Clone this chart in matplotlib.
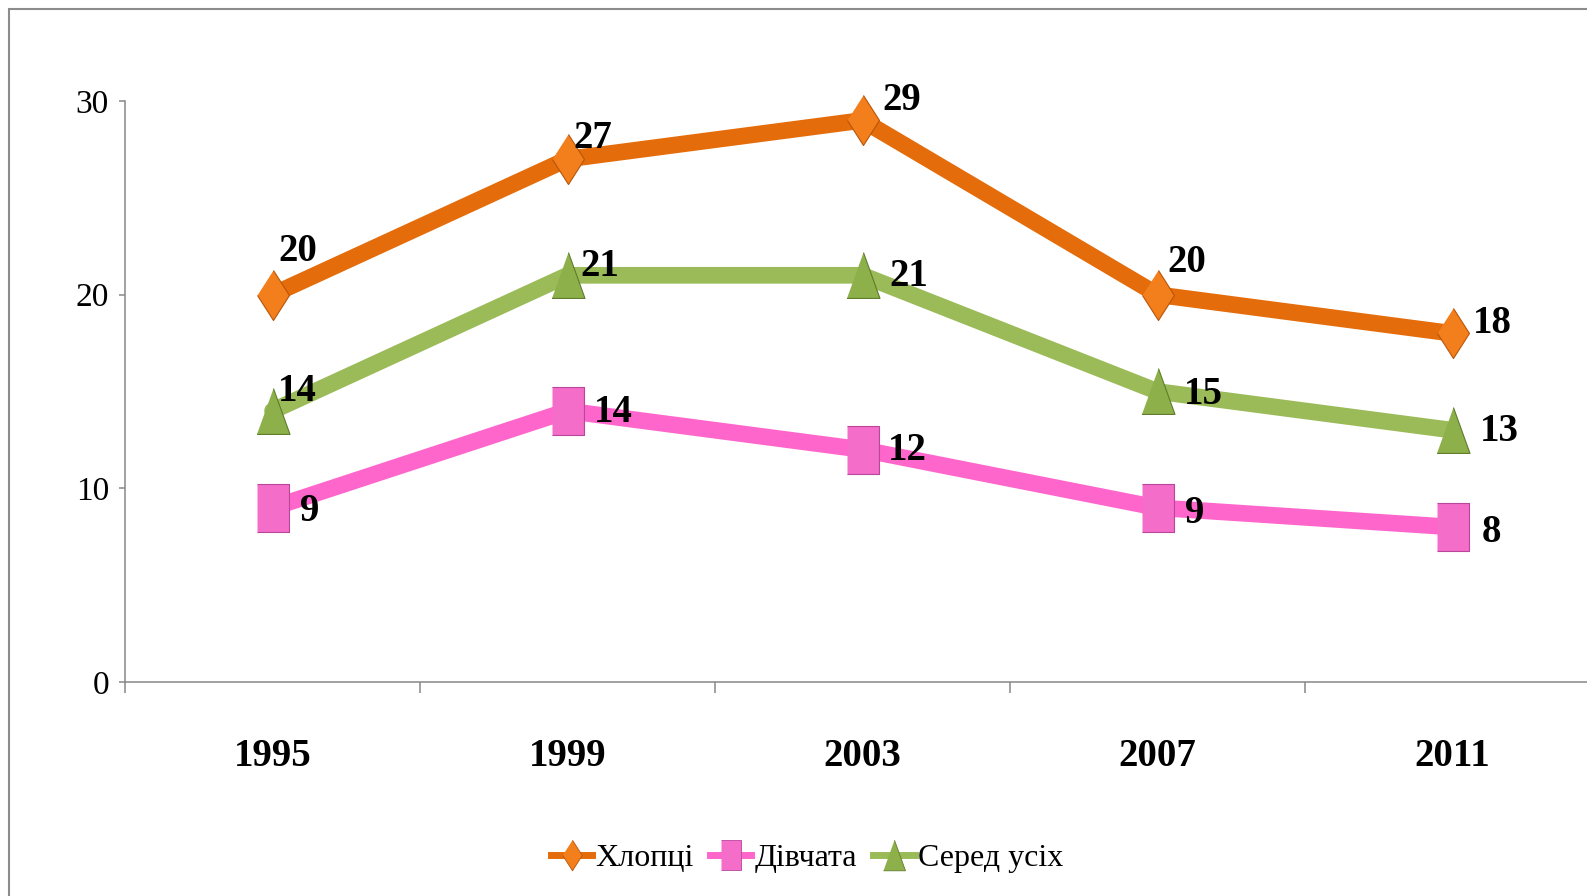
import matplotlib
matplotlib.use("Agg")
import matplotlib.pyplot as plt
from matplotlib.lines import Line2D
from matplotlib.patches import Rectangle

plt.rcParams["font.family"] = ["Liberation Serif", "DejaVu Serif"]

years = ["1995", "1999", "2003", "2007", "2011"]
boys = [20, 27, 29, 20, 18]
girls = [9, 14, 12, 9, 8]
overall = [14, 21, 21, 15, 13]
names = ["Хлопці", "Дівчата", "Серед усіх"]

# tall, narrow marker shapes (the original is squeezed sideways)
diamond = [(0, 0.5), (0.32, 0), (0, -0.5), (-0.32, 0)]
square = [(-0.34, -0.5), (0.34, -0.5), (0.34, 0.5), (-0.34, 0.5)]
triangle = [(0, 0.5), (0.36, -0.5), (-0.36, -0.5)]

series = [
    dict(y=boys, color="#E46C0A", mfc="#F37F1C", mec="#B85508", marker=diamond, ms=36,
         offs=[(18, 31), (18, 15), (28, 14), (21, 23), (29, 7)]),
    dict(y=girls, color="#FF66CC", mfc="#F46DC8", mec="#B8479A", marker=square, ms=34,
         offs=[(27, -3), (33, -1), (32, -1), (27, -4), (28, -4)]),
    dict(y=overall, color="#9BBB59", mfc="#8DB04A", mec="#5F7B2B", marker=triangle, ms=33,
         offs=[(18, 14), (23, 6), (33, -1), (33, -2), (34, -1)]),
]

W, H = 1587, 896
fig = plt.figure(figsize=(W / 100, H / 100), dpi=100)
fig.patches.append(Rectangle((9 / W, -0.1), 1.2, 1.1 - 9 / H, transform=fig.transFigure,
                             fill=False, ec="#8c8c8c", lw=1.5))

ax = fig.add_axes([125 / W, 1 - 682 / H, (1600 - 125) / W, (682 - 101) / H])
x = list(range(len(years)))

for s, name in zip(series, names):
    ax.plot(x, s["y"], color=s["color"], lw=12, solid_capstyle="round", zorder=2, clip_on=False)
    ax.plot(x, s["y"], ls="none", marker=s["marker"], ms=s["ms"], mfc=s["mfc"],
            mec=s["mec"], mew=0.8, zorder=3, clip_on=False)
    for xi, yi, off in zip(x, s["y"], s["offs"]):
        ax.annotate(str(yi), (xi, yi), xytext=off, textcoords="offset points",
                    ha="center", va="center", fontsize=28, fontweight="bold", zorder=4)

ax.set_xlim(-0.5, 4.5)
ax.set_ylim(0, 30)
ax.set_yticks([0, 10, 20, 30])
ax.set_xticks(x)
ax.set_xticklabels(years, fontsize=28, fontweight="bold")
ax.set_xticks([-0.5, 0.5, 1.5, 2.5, 3.5], minor=True)
ax.tick_params(axis="x", which="major", length=0, pad=40)
ax.tick_params(axis="x", which="minor", length=8, width=1.1, color="#888888", direction="out")
ax.tick_params(axis="y", length=4.5, width=1.1, color="#888888", labelsize=24, pad=7)
for lbl in ax.get_yticklabels():
    lbl.set_va("center_baseline")

for side in ["top", "right"]:
    ax.spines[side].set_visible(False)
for side in ["left", "bottom"]:
    ax.spines[side].set_color("#888888")
    ax.spines[side].set_linewidth(1.1)

handles = [Line2D([], [], color=s["color"], lw=5, marker=s["marker"], ms=22, mfc=s["mfc"],
                  mec=s["mec"], mew=0.6) for s in series]
fig.legend(handles, names, loc="center", bbox_to_anchor=(807 / W, 1 - 858 / H), ncol=3,
           frameon=False, fontsize=23, handlelength=1.3, handletextpad=0.1, columnspacing=0.5)

fig.savefig("out.png", dpi=100, facecolor="white")
